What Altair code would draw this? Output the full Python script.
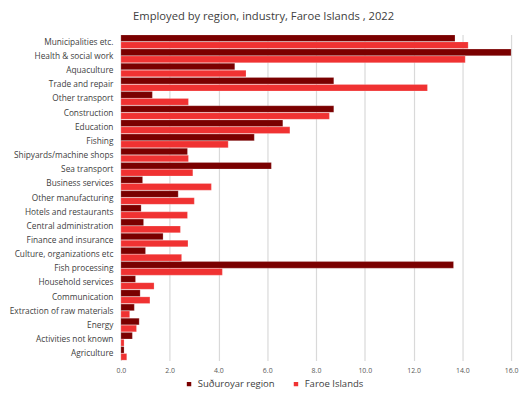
import altair as alt
import pandas as pd

industries = [
    "Municipalities etc.", "Health & social work", "Aquaculture", "Trade and repair",
    "Other transport", "Construction", "Education", "Fishing",
    "Shipyards/machine shops", "Sea transport", "Business services", "Other manufacturing",
    "Hotels and restaurants", "Central administration", "Finance and insurance",
    "Culture, organizations etc", "Fish processing", "Household services", "Communication",
    "Extraction of raw materials", "Energy", "Activities not known", "Agriculture",
]
suduroy = [13.7, 16.0, 4.67, 8.73, 1.29, 8.73, 6.64, 5.47, 2.73, 6.17, 0.89, 2.35,
           0.83, 0.93, 1.73, 1.01, 13.64, 0.60, 0.79, 0.55, 0.75, 0.47, 0.13]
faroe = [14.24, 14.12, 5.13, 12.57, 2.77, 8.55, 6.93, 4.4, 2.77, 2.95, 3.71, 3.01,
         2.73, 2.44, 2.75, 2.49, 4.16, 1.36, 1.19, 0.36, 0.64, 0.13, 0.24]
series = ["Suðuroyar region", "Faroe Islands"]
colors = ["#7a0000", "#f03232"]

rows = []
for i, ind in enumerate(industries):
    rows.append({"industry": ind, "series": series[0], "value": suduroy[i]})
    rows.append({"industry": ind, "series": series[1], "value": faroe[i]})
df = pd.DataFrame(rows)

font = "Open Sans"

chart = alt.Chart(df).mark_bar(strokeWidth=0.5, stroke="#ffffff", strokeOpacity=0.4).encode(
    y=alt.Y("industry:N", sort=industries, title=None,
            scale=alt.Scale(paddingInner=0.04, paddingOuter=0.02),
            axis=alt.Axis(domain=False, ticks=False, labelFontSize=8.4, labelColor="#404040",
                          labelFont=font, labelPadding=8, labelLimit=200)),
    yOffset=alt.YOffset("series:N", sort=series, scale=alt.Scale(paddingInner=0.05)),
    x=alt.X("value:Q", title=None,
            scale=alt.Scale(domain=[0, 16], nice=False),
            axis=alt.Axis(values=[0, 2, 4, 6, 8, 10, 12, 14, 16], format=".1f",
                          domain=False, ticks=False, labelFontSize=7, labelColor="#595959",
                          labelFont=font, labelPadding=6, gridColor="#d9d9d9", gridWidth=1.2,
                          labelFlush=False)),
    color=alt.Color("series:N", sort=series,
                    scale=alt.Scale(domain=series, range=colors),
                    legend=alt.Legend(title=None, orient="none", direction="horizontal",
                                      legendX=64, legendY=348, symbolType="square",
                                      symbolSize=36, labelFontSize=9.6, labelFont=font,
                                      labelColor="#404040", columnPadding=14, labelOffset=4)),
).properties(
    width=394, height=329,
    title=alt.TitleParams("Employed by region, industry, Faroe Islands , 2022",
                          fontSize=11.3, font=font, fontWeight="normal", color="#404040",
                          anchor="middle", frame="bounds", offset=12),
    padding={"left": 114, "top": 25, "right": 8, "bottom": 31},
    autosize=alt.AutoSizeParams(type="none"),
).configure_view(stroke=None)

chart.save("out.html", embed_options={"renderer": "svg", "actions": False})
